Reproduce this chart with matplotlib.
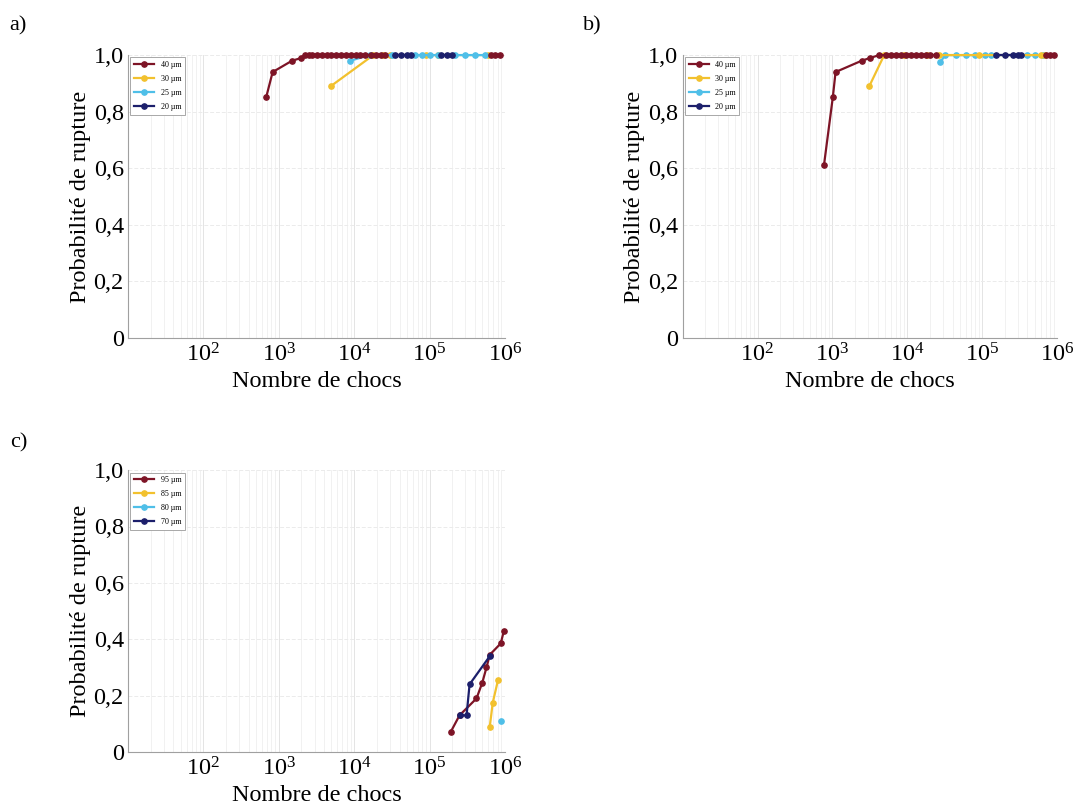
import numpy as np
import matplotlib.pyplot as plt
from matplotlib.ticker import LogLocator, NullFormatter

plt.rcParams['font.family'] = ['Liberation Serif', 'DejaVu Serif']
plt.rcParams['mathtext.fontset'] = 'custom'
plt.rcParams['mathtext.rm'] = 'Liberation Serif'
plt.rcParams['mathtext.it'] = 'Liberation Serif:italic'

nan = np.nan

############  data (nan = curve not drawn there)
# a)
a_labels = ['40 µm', '30 µm', '25 µm', '20 µm']
a_x40 = [680, 830, 1500, 2000, 2200, 2500, 2800, 3200, 3700, 4300, 5000, 5800, 6700, 7800,
         9000, 10500, 12000, 14000, 16500, 19500, 23000, 26000, nan, 650000, 750000, 850000]
a_y40 = [0.85, 0.94, 0.98, 0.99, 1.0, 1.0, 1.0, 1.0, 1.0, 1.0, 1.0, 1.0, 1.0, 1.0,
         1.0, 1.0, 1.0, 1.0, 1.0, 1.0, 1.0, 1.0, nan, 1.0, 1.0, 1.0]
a_x30 = [4900, 18000, 24000, 30000, 90000, 130000, 600000]
a_y30 = [0.89, 1.0, 1.0, 1.0, 1.0, 1.0, 1.0]
a_x25 = [8900, 16000, 32000, 65000, 80000, 100000, 130000, 220000, 300000, 400000, 550000]
a_y25 = [0.98, 1.0, 1.0, 1.0, 1.0, 1.0, 1.0, 1.0, 1.0, 1.0, 1.0]
a_x20 = [35000, 42000, 50000, 57000, nan, 140000, 170000, 200000]
a_y20 = [1.0, 1.0, 1.0, 1.0, nan, 1.0, 1.0, 1.0]

# b)
b_labels = ['40 µm', '30 µm', '25 µm', '20 µm']
b_x40 = [770, 1010, 1100, 2450, 3200, 4200, 5200, 6000, 7000, 8200, 9500, 11000, 13000,
         15000, 17500, 20000, 24000, nan, 700000, 800000, 900000]
b_y40 = [0.61, 0.85, 0.94, 0.98, 0.99, 1.0, 1.0, 1.0, 1.0, 1.0, 1.0, 1.0, 1.0,
         1.0, 1.0, 1.0, 1.0, nan, 1.0, 1.0, 1.0]
b_x30 = [3100, 4900, 9000, 18000, 26000, 90000, 600000, 680000]
b_y30 = [0.89, 1.0, 1.0, 1.0, 1.0, 1.0, 1.0, 1.0]
b_x25 = [27500, 32000, 45000, 60000, 80000, 110000, 130000, 400000, 500000, 650000]
b_y25 = [0.976, 1.0, 1.0, 1.0, 1.0, 1.0, 1.0, 1.0, 1.0, 1.0]
b_x20 = [150000, 200000, 260000, 300000, 330000]
b_y20 = [1.0, 1.0, 1.0, 1.0, 1.0]

# c)
c_labels = ['95 µm', '85 µm', '80 µm', '70 µm']
c_x95 = [190000, 250000, 420000, 500000, 570000, 630000, 880000, 970000]
c_y95 = [0.07, 0.13, 0.19, 0.245, 0.30, 0.345, 0.385, 0.43]
c_x85 = [630000, 690000, 810000]
c_y85 = [0.09, 0.175, 0.255]
c_x80 = [880000]
c_y80 = [0.11]
c_x70 = [250000, 310000, 340000, 630000]
c_y70 = [0.13, 0.13, 0.24, 0.34]

colors = ['#7d1426', '#f2c12e', '#4fbfe8', '#1c1f6b']
yticks = [0, 0.2, 0.4, 0.6, 0.8, 1.0]
ytick_labels = ['0', '0,2', '0,4', '0,6', '0,8', '1,0']
xticks = [1e2, 1e3, 1e4, 1e5, 1e6]
xtick_labels = ['$10^{2}$', '$10^{3}$', '$10^{4}$', '$10^{5}$', '$10^{6}$']


def draw_panel(ax, xs, ys, labels, zorders):
    lines = []
    for x, y, lab, col, z in zip(xs, ys, labels, colors, zorders):
        ln, = ax.plot(x, y, '-o', color=col, lw=1.6, ms=3.8, label=lab,
                      zorder=z, clip_on=False)
        lines.append(ln)

    ax.set_xscale('log')
    ax.set_xlim(10, 1e6)
    ax.set_ylim(0, 1.0)
    ax.set_xticks(xticks)
    ax.set_xticklabels(xtick_labels)
    ax.xaxis.set_minor_locator(LogLocator(base=10, subs=np.arange(2, 10)))
    ax.xaxis.set_minor_formatter(NullFormatter())
    ax.set_yticks(yticks)
    ax.set_yticklabels(ytick_labels)
    ax.tick_params(axis='both', which='both', length=0, labelsize=17.5)
    ax.tick_params(axis='x', pad=4)
    ax.tick_params(axis='y', pad=3)

    ax.grid(True, axis='x', which='minor', color='#efefef', lw=0.6)
    ax.grid(True, axis='x', which='major', color='#e4e4e4', lw=0.7)
    ax.grid(True, axis='y', which='major', color='#ebebeb', lw=0.7, ls=(0, (4, 2)))
    ax.set_axisbelow(True)
    for s in ['top', 'right']:
        ax.spines[s].set_visible(False)
    for s in ['left', 'bottom']:
        ax.spines[s].set_color('#a0a0a0')
        ax.spines[s].set_linewidth(0.8)

    ax.set_xlabel('Nombre de chocs', fontsize=17.5, labelpad=3)
    ax.set_ylabel('Probabilité de rupture', fontsize=17.5, labelpad=2)
    leg = ax.legend(handles=lines, loc='upper left', fontsize=5.8, fancybox=False,
                    framealpha=1, edgecolor='#9a9a9a', handlelength=2.5,
                    labelspacing=0.75, borderaxespad=0.3, borderpad=0.45)
    leg.get_frame().set_linewidth(0.6)
    leg.set_zorder(10)


fig = plt.figure(figsize=(10.8, 8.1), dpi=100)

ax_a = fig.add_axes([0.1185, 0.583, 0.349, 0.349])
draw_panel(ax_a, [a_x40, a_x30, a_x25, a_x20], [a_y40, a_y30, a_y25, a_y20],
           a_labels, [6, 3, 4, 5])

ax_b = fig.add_axes([0.632, 0.583, 0.347, 0.349])
draw_panel(ax_b, [b_x40, b_x30, b_x25, b_x20], [b_y40, b_y30, b_y25, b_y20],
           b_labels, [6, 4, 3, 5])

ax_c = fig.add_axes([0.1185, 0.0716, 0.349, 0.348])
draw_panel(ax_c, [c_x95, c_x85, c_x80, c_x70], [c_y95, c_y85, c_y80, c_y70],
           c_labels, [3, 4, 5, 6])

fig.text(0.009, 0.962, 'a)', fontsize=16)
fig.text(0.540, 0.962, 'b)', fontsize=16)
fig.text(0.009, 0.448, 'c)', fontsize=16)

fig.savefig('out.png', dpi=100)
